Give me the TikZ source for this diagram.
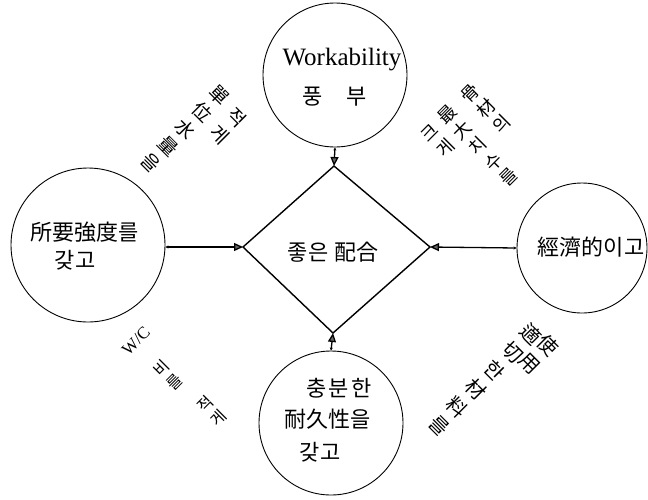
\documentclass[tikz,border=0pt]{standalone}
\usepackage{fontspec}
\setmainfont{Liberation Serif}
\newfontfamily\kr{Noto Sans CJK KR}
\usetikzlibrary{arrows.meta}
\begin{document}
\begin{tikzpicture}[x=1pt,y=-1pt,
  circ/.style={circle,draw,line width=0.9pt,inner sep=0pt},
  conn/.style={line width=1.3pt,{Stealth[length=3pt,width=3pt]}-{Triangle[length=9pt,width=8pt,fill=gray!80!black]}},
  ktxt/.style={font=\kr\fontsize{22}{26}\selectfont,inner sep=0pt},
  lbl/.style n args={2}{font=\kr\fontsize{#1}{#2}\selectfont,align=center,inner sep=0pt}]
\useasboundingbox (0,0) rectangle (648,499);
% circles
\node[circ, minimum size=144pt] (top) at (335,75) {};
\node[font=\fontsize{25}{28}\selectfont, inner sep=0pt] (wk) at (342,60) {Workability};
\node[ktxt] (pb) at (335,97) {풍\hspace{24pt}부};
\node[circ, minimum size=154pt] (lc) at (88,245) {};
\node[ktxt] (lt1) at (85,232) {所要強度를};
\node[ktxt] (lt2) at (75,260) {갖고};
\node[circ, minimum size=130pt] (rc) at (582,248) {};
\node[ktxt] (rt) at (591,247) {經濟的이고};
\node[circ, minimum size=144pt] (bc) at (331,423) {};
\node[ktxt] (bt1) at (339,388) {충\hspace{2pt}분\hspace{2pt}한};
\node[ktxt] (bt2) at (328,419) {耐久性을};
\node[ktxt] (bt3) at (320,452) {갖고};
% diamond
\coordinate (dT) at (334,166);
\coordinate (dL) at (243,247);
\coordinate (dR) at (430,247);
\coordinate (dB) at (333,333);
\draw[line width=1.4pt] (dT)--(dR)--(dB)--(dL)--cycle;
\node[ktxt] (mix) at (333,252) {좋은\hspace{6pt}配合};
% connectors
\draw[conn] (top.south) -- (dT);
\draw[conn] (lc.east |- dL) -- (dL);
\draw[conn] (rc.west) -- (dR);
\draw[conn] (bc.north) -- (dB);
% rotated labels
\node[lbl={19}{24}, rotate=-45] (ul1) at (185,129) {單\\位\\水\\量\\을};
\node[lbl={19}{24}, rotate=-45] (ul2) at (228,126) {적\\게};
\node[lbl={18}{22}, rotate=45] (ur1) at (486,109) {骨\\材\\의};
\node[lbl={18}{22}, rotate=45] (ur2) at (478,146) {最\\大\\치\\수\\를};
\node[lbl={18}{22}, rotate=45] (ur3) at (438,141) {크\\게};
\node[font=\fontsize{17}{17}\selectfont, rotate=45, inner sep=0pt] (wc) at (136,341) {W/C};
\node[lbl={16}{19}, rotate=45] (ll1) at (168,375) {비\\를};
\node[lbl={16}{19}, rotate=45] (ll2) at (212,411) {적\\게};
\node[lbl={20}{26}, rotate=-45] (lr1) at (485,380) {適\\切\\한\\材\\料\\를};
\node[lbl={20}{26}, rotate=-45] (lr2) at (539,354) {使\\用};
\end{tikzpicture}
\end{document}
